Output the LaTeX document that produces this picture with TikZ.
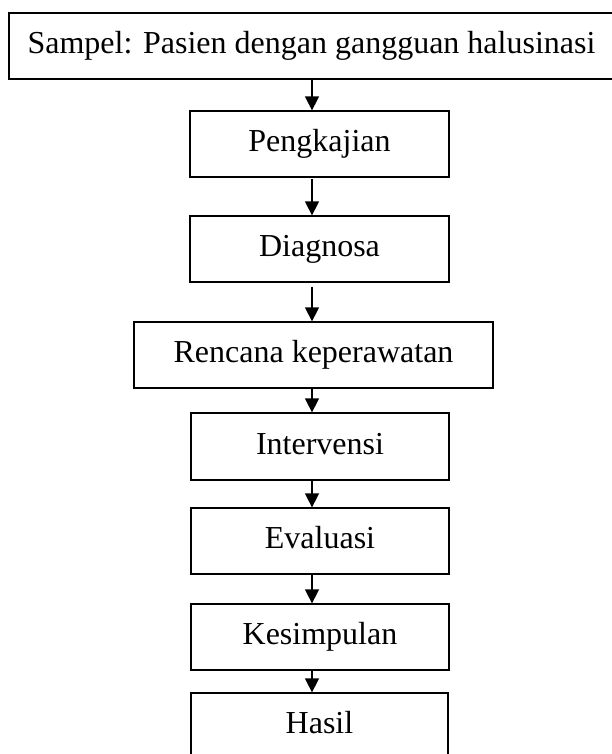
\documentclass[tikz,border=0pt]{standalone}
\usepackage{fontspec}
\setmainfont{Liberation Serif}
\usetikzlibrary{arrows.meta}
\begin{document}
\begin{tikzpicture}[x=1pt,y=-1pt,
  box/.style={draw=black, line width=1.3pt, rectangle, inner sep=0pt,
    minimum height=66pt, font=\fontsize{32}{38}\selectfont,
    text height=22pt, text depth=7pt},
  arr/.style={line width=1.5pt, -{Triangle[width=14pt,length=14pt]}}]
\useasboundingbox (0,0) rectangle (611,754);
\fill[white] (0,0) rectangle (611,754);
\coordinate (ax) at (312,0);
\node[box, minimum width=605pt] (s) at (311.5,46) {Sampel: Pasien dengan gangguan halusinasi};
\node[box, minimum width=259pt] (p) at (319.5,144) {Pengkajian};
\node[box, minimum width=259pt] (d) at (319.5,249) {Diagnosa};
\node[box, minimum width=359pt] (r) at (313.5,355) {Rencana keperawatan};
\node[box, minimum width=258pt, minimum height=67pt] (i) at (320,446.5) {Intervensi};
\node[box, minimum width=258pt] (e) at (320,541) {Evaluasi};
\node[box, minimum width=258pt] (k) at (320,637) {Kesimpulan};
\node[box, minimum width=257pt] (h) at (319.5,726) {Hasil};
\draw[arr] (s.south -| ax) -- (p.north -| ax);
\draw[arr] ([yshift=-1pt]p.south -| ax) -- (d.north -| ax);
\draw[arr] ([yshift=-4pt]d.south -| ax) -- (r.north -| ax);
\draw[arr] (r.south -| ax) -- (i.north -| ax);
\draw[arr] (i.south -| ax) -- (e.north -| ax);
\draw[arr] (e.south -| ax) -- (k.north -| ax);
\draw[arr] (k.south -| ax) -- (h.north -| ax);
\end{tikzpicture}
\end{document}
